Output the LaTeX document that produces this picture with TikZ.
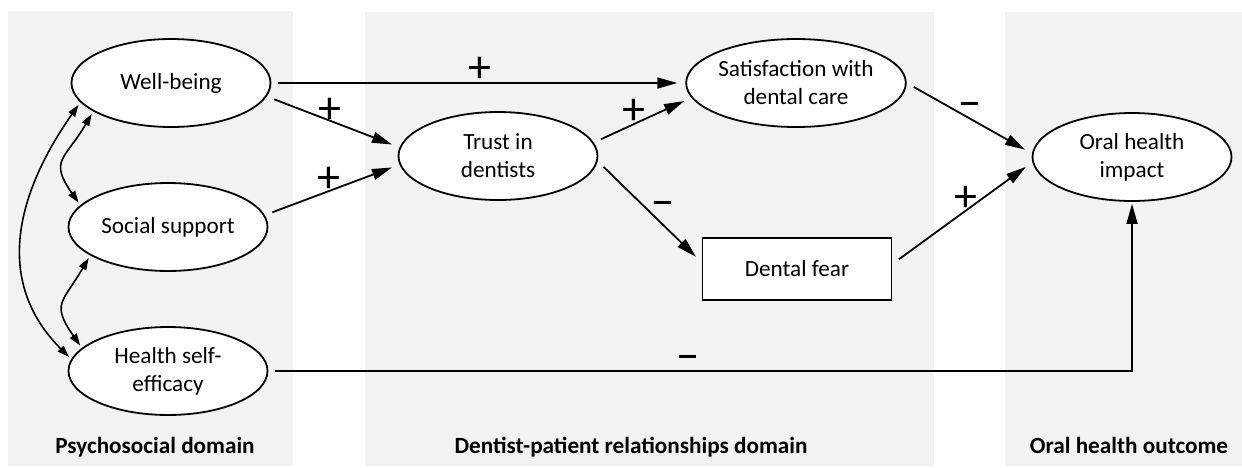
\documentclass[tikz,border=0pt]{standalone}
\usepackage{fontspec}
\setmainfont{Carlito}
\usetikzlibrary{arrows.meta,shapes.geometric}

\definecolor{panelgray}{HTML}{F2F2F2}

\tikzset{
	latent/.style={ellipse, draw, fill=white, line width=0.9pt, minimum width=99.5pt, minimum height=44pt, inner sep=0pt, align=center, font=\fontsize{11.6}{14}\selectfont},
	observed/.style={rectangle, draw, fill=white, line width=0.9pt, minimum width=94.5pt, minimum height=31pt, inner sep=0pt, font=\fontsize{11.6}{14}\selectfont},
	effect/.style={-{Triangle[length=10pt,width=5.5pt]}, line width=0.9pt, shorten <=4pt, shorten >=4pt},
	covar/.style={{Triangle[length=6pt,width=4pt]}-{Triangle[length=6pt,width=4pt]}, line width=0.8pt, shorten <=1.5pt, shorten >=1.5pt},
	sign/.style={font=\fontsize{23}{23}\selectfont, inner sep=0pt, text height=1.5ex, text depth=0.25ex, yshift=-4pt},
	domlabel/.style={font=\bfseries\fontsize{11.6}{14}\selectfont, anchor=base}
}

\begin{document}
\begin{tikzpicture}[x=0.5pt, y=0.5pt]
	\useasboundingbox (0,0) rectangle (1242,-467);
	\fill[panelgray] (8,-11) rectangle (293,-466);
	\fill[panelgray] (365,-12) rectangle (934,-466);
	\fill[panelgray] (1005,-12) rectangle (1242,-466);

	\node[latent] (wellbeing) at (171,-83) {Well-being};
	\node[latent] (social) at (168,-227) {Social support};
	\node[latent] (selfeff) at (168,-371) {Health self-\\efficacy};
	\node[latent] (trust) at (498,-156) {Trust in\\dentists};
	\node[latent] (satis) at (796,-83) {Satisfaction with\\dental care};
	\node[observed] (fear) at (797,-269) {Dental fear};
	\node[latent] (oralimpact) at (1132,-157) {Oral health\\impact};

	\draw[effect, shorten <=3.5pt] (wellbeing.east) -- (satis.west);
	\draw[effect] (wellbeing.-8) -- (trust.175);
	\draw[effect] (social.7) -- (trust.185);
	\draw[effect] (trust.8) -- (satis.188);
	\draw[effect] (trust.-3) -- (fear.176);
	\draw[effect] (satis.0) -- (oralimpact.178);
	\draw[effect] (fear.3) -- (oralimpact.183);
	\draw[effect, shorten <=3.5pt, shorten >=1pt] (selfeff.east) -| (oralimpact.south);

	\draw[covar] (wellbeing.192) to[out=235, in=135, looseness=1.1] (selfeff.173);
	\draw[covar] (wellbeing.200) to[out=240, in=125, looseness=1.5] (social.166);
	\draw[covar] (social.200) to[out=240, in=125, looseness=1.5] (selfeff.165);

	\node[sign] (s1) at (480,-69) {+};
	\node[sign] (s2) at (330,-110) {+};
	\node[sign] (s3) at (329,-179) {+};
	\node[sign] (s4) at (634,-111) {+};
	\node[sign] (s5) at (663,-204) {−};
	\node[sign] (s6) at (970,-105) {−};
	\node[sign] (s7) at (966,-198) {+};
	\node[sign] (s8) at (688,-358) {−};

	\node[domlabel] (dom1) at (155,-453) {Psychosocial domain};
	\node[domlabel] (dom2) at (631,-453) {Dentist-patient relationships domain};
	\node[domlabel] (dom3) at (1129,-453) {Oral health outcome};
\end{tikzpicture}
\end{document}
